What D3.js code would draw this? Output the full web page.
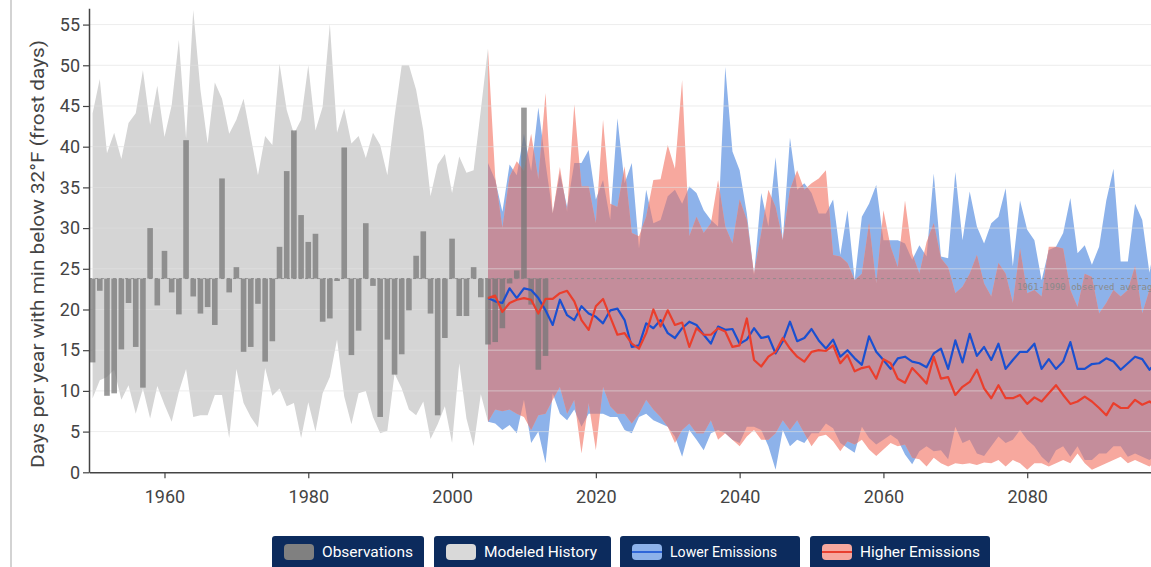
<!DOCTYPE html>
<html><head><meta charset="utf-8">
<script src="https://cdn.jsdelivr.net/npm/d3@7/dist/d3.min.js"></script>
<style>
html,body{margin:0;padding:0;background:#fff;overflow:hidden}
svg{display:block;font-family:Roboto,"Noto Sans",sans-serif}
</style></head><body>
<svg id="chart" width="1151" height="567"></svg>
<script>
// ---------- DATA ----------
const obsYears = d3.range(1950, 2014);
const obsValues = [13.5,22.3,9.4,9.7,15.1,20.8,15.4,10.4,30.0,20.5,
  27.2,22.1,19.4,40.8,21.6,19.5,20.3,18.1,36.1,22.1,
  25.2,14.8,15.4,20.7,13.6,16.1,27.7,37.0,42.0,31.6,
  28.3,29.3,18.5,18.9,23.5,39.9,14.4,17.4,30.6,22.9,
  6.8,16.3,12.0,14.5,19.9,26.6,29.6,19.5,7.0,16.5,
  28.7,19.2,19.2,25.2,21.5,15.7,16.0,17.7,23.2,24.8,
  44.8,20.6,12.6,14.3];
const observedAverage = 23.8;

const histYears = d3.range(1950, 2006);
const histMin = [9.1,11.3,11.7,12.6,8.9,10.7,7.2,10.3,6.6,10.6,
  8.3,6.2,9.9,12.7,6.8,7.0,7.0,9.5,9.5,4.2,
  12.7,8.5,6.8,5.5,12.8,9.4,10.3,8.1,8.5,4.2,
  8.6,5.0,9.7,11.7,16.3,9.3,5.9,9.7,10.0,6.8,
  4.8,5.1,12.1,10.3,7.7,7.0,8.7,4.1,5.9,8.1,
  3.6,13.4,6.6,3.2,9.6,6.2];
const histMax = [44.1,48.3,39.2,41.7,38.5,42.9,44.1,49.4,42.7,47.5,
  41.2,45.1,53.1,41.0,56.8,47.0,40.4,47.9,45.9,41.6,
  43.3,45.9,41.2,36.5,41.3,40.2,50.2,44.5,41.6,43.3,
  50.0,42.0,44.9,55.1,41.7,44.7,40.4,41.3,38.6,41.7,
  40.2,36.5,43.7,50.0,50.0,47.0,42.0,33.9,37.8,39.1,
  34.3,38.8,36.8,37.1,44.5,52.1];

const projYears = d3.range(2005, 2100);
const lowerMin = [6.2,6.0,5.2,5.8,4.8,8.9,3.6,5.0,1.1,9.7,
  7.2,6.4,7.7,5.6,7.2,7.2,7.2,6.8,6.8,5.2,
  4.8,6.8,7.2,6.4,6.0,5.6,4.4,1.9,5.2,4.0,
  2.7,4.8,5.2,4.8,4.0,3.6,5.6,5.6,5.2,3.2,
  0.3,5.2,3.2,4.0,3.6,4.8,4.8,6.0,5.4,3.6,
  3.0,2.4,5.6,4.2,3.4,4.0,4.6,4.0,2.2,1.0,
  2.6,3.2,2.6,2.7,1.6,5.6,3.6,4.0,2.3,2.0,
  3.2,4.4,3.6,4.0,5.2,4.0,3.2,1.9,1.1,2.7,
  3.2,1.9,3.2,1.5,1.5,2.3,2.3,3.2,3.2,1.9,
  2.3,1.9,1.5,2.3,2.0];
const lowerMax = [38.0,35.9,32.0,37.8,36.5,41.6,37.0,44.8,38.0,31.8,
  36.7,32.6,38.0,38.0,39.6,33.5,35.9,31.0,43.5,35.5,
  38.0,27.5,34.7,30.6,31.0,33.9,34.7,33.0,35.1,34.3,
  32.2,31.0,30.2,49.8,39.4,37.1,31.8,24.2,34.3,30.2,
  38.7,28.5,41.1,34.7,35.5,34.3,31.8,31.8,33.5,26.7,
  32.2,23.6,31.4,33.0,35.3,28.5,28.5,28.5,28.1,26.1,
  27.9,26.5,36.7,26.5,26.3,36.9,28.5,34.5,30.2,28.1,
  30.6,31.4,34.9,25.3,33.4,29.8,28.5,23.6,27.3,27.7,
  29.4,33.7,26.9,27.9,25.5,27.7,33.4,37.3,25.9,25.9,
  33.0,31.0,24.5,29.4,29.8];
const lowerMedian = [21.4,21.0,20.8,22.6,21.4,22.6,22.4,21.4,19.9,18.1,
  21.2,19.3,18.7,20.4,19.5,19.1,18.3,19.9,20.1,18.7,
  15.4,15.6,18.3,17.7,18.7,17.1,16.5,17.7,18.5,18.1,
  16.9,15.8,17.9,17.5,17.6,15.8,16.3,17.7,16.5,16.7,
  14.6,16.1,18.5,16.1,16.5,17.6,16.2,15.2,16.3,14.2,
  15.0,14.0,13.2,16.7,14.8,13.8,12.7,14.0,14.2,13.6,
  13.4,12.9,14.6,15.2,12.7,16.2,13.5,17.0,14.3,15.4,
  13.8,15.8,12.7,13.8,14.8,14.8,15.8,12.7,13.9,12.7,
  13.6,16.0,12.7,12.7,13.3,13.4,14.0,13.6,12.6,13.4,
  14.2,13.9,12.6,13.5,13.2];
const higherMin = [6.2,7.7,7.5,7.7,7.2,6.8,5.2,7.0,7.2,8.9,
  10.5,7.2,8.9,2.3,8.5,2.7,10.5,8.1,7.2,7.2,
  6.0,7.2,8.9,7.7,6.8,5.6,3.6,5.2,6.0,4.8,
  4.8,6.4,4.0,4.8,4.0,3.2,4.4,5.2,4.0,4.0,
  4.8,6.4,5.2,6.4,4.8,3.2,4.4,4.6,3.8,2.6,
  3.8,3.4,4.0,2.8,2.0,2.8,3.6,3.2,3.4,1.8,
  1.6,0.7,1.8,1.1,0.7,1.1,1.0,1.1,0.9,1.2,
  1.1,1.5,0.7,1.5,1.1,0.3,1.1,1.1,0.7,1.1,
  1.5,1.1,2.3,1.1,0.3,0.7,1.1,1.5,1.9,1.1,
  1.5,1.1,0.7,1.5,1.1];
const higherMax = [52.0,36.3,30.0,36.3,38.2,37.0,41.6,36.0,46.6,31.8,
  37.5,32.0,45.2,35.1,35.1,30.6,43.3,33.0,32.6,37.6,
  29.4,29.0,31.4,35.9,36.0,40.2,37.3,48.2,29.0,31.4,
  29.4,30.6,35.9,30.2,28.1,33.5,31.0,24.4,29.4,34.7,
  32.6,28.5,34.7,37.1,34.7,35.5,36.1,37.1,26.7,26.5,
  25.7,23.6,24.4,30.6,23.2,32.2,27.7,25.2,33.4,26.9,
  24.4,28.3,30.6,26.3,25.2,22.0,22.8,24.4,26.7,23.2,
  21.6,25.7,24.4,20.8,27.5,22.0,22.4,21.6,27.7,27.7,
  27.5,22.4,20.3,24.4,24.0,19.5,20.8,22.4,21.6,22.4,
  25.3,19.5,22.4,23.6,22.8];
const higherMedian = [21.4,21.7,19.7,20.8,21.2,21.4,21.2,19.5,21.3,21.3,
  22.0,22.3,21.0,18.7,17.5,20.4,21.3,19.1,16.9,17.1,
  15.8,15.2,17.1,20.0,17.9,19.9,18.1,18.4,15.4,17.7,
  16.9,16.9,17.7,17.3,15.4,15.6,18.9,13.8,13.0,14.2,
  14.8,16.5,15.2,14.2,13.6,14.8,15.0,14.9,15.6,13.4,
  14.4,12.4,12.8,13.0,11.5,13.9,13.4,11.5,11.0,12.8,
  11.9,10.9,14.2,11.5,11.7,9.5,10.5,11.1,12.6,10.3,
  9.1,10.7,9.1,9.1,9.5,8.4,9.2,8.7,9.7,10.7,
  9.5,8.4,8.7,9.3,8.7,7.9,7.0,8.5,7.9,7.9,
  8.9,8.3,8.7,8.2,8.4];

const xTicks = [1960,1980,2000,2020,2040,2060,2080];
const yTicks = [0,5,10,15,20,25,30,35,40,45,50,55];
const yTitle = "Days per year with min below 32°F (frost days)";
const avgLabel = "1961-1990 observed average";
const legendLabels = ["Observations","Modeled History","Lower Emissions","Higher Emissions"];

// ---------- CHART ----------
const svg = d3.select("#chart");
const x = d3.scaleLinear().domain([1949.5, 2100]).range([89, 1171]);
const y = d3.scaleLinear().domain([0, 57]).range([472.3, 8.3]);

// container border
svg.append("line").attr("x1",11).attr("x2",11).attr("y1",0).attr("y2",567)
  .attr("stroke","#c4c4c4").attr("stroke-width",1.5);

const hist = histYears.map((yr,i)=>({yr, lo:histMin[i], hi:histMax[i]}));
const lower = projYears.map((yr,i)=>({yr, lo:lowerMin[i], hi:lowerMax[i], med:lowerMedian[i]}));
const higher = projYears.map((yr,i)=>({yr, lo:higherMin[i], hi:higherMax[i], med:higherMedian[i]}));

const band = d3.area().x(d=>x(d.yr)).y0(d=>y(d.lo)).y1(d=>y(d.hi));
const medLine = d3.line().x(d=>x(d.yr)).y(d=>y(d.med));

svg.append("defs").append("clipPath").attr("id","lowerClip")
  .append("path").attr("d", band(lower));

svg.append("path").attr("d", band(hist)).attr("fill","#d5d5d5");
svg.append("path").attr("d", band(lower)).attr("fill","#8db2ea");
svg.append("path").attr("d", band(higher)).attr("fill","#f7a89e");
svg.append("path").attr("d", band(higher)).attr("fill","#c48d9b").attr("clip-path","url(#lowerClip)");

// gridlines
svg.append("g").selectAll("line").data(yTicks.filter(d=>d>0)).join("line")
  .attr("x1",89).attr("x2",1151).attr("y1",d=>y(d)).attr("y2",d=>y(d))
  .attr("stroke","rgb(225,225,225)").attr("stroke-opacity",0.6).attr("stroke-width",1);

// observed average
svg.append("line").attr("x1",89).attr("x2",1151)
  .attr("y1",y(observedAverage)).attr("y2",y(observedAverage))
  .attr("stroke","#8a8a8a").attr("stroke-width",0.8).attr("stroke-dasharray","3,3");
svg.append("text").attr("x",1017).attr("y",y(observedAverage)+11.5)
  .attr("font-family","'DejaVu Sans Mono',monospace").attr("font-size",9)
  .attr("fill","#8a8a8a").text(avgLabel);

// observation bars
const bw = 5.6;
svg.append("g").selectAll("rect").data(obsYears.map((yr,i)=>({yr,v:obsValues[i]}))).join("rect")
  .attr("x",d=>x(d.yr)-bw/2).attr("width",bw)
  .attr("y",d=>Math.min(y(d.v),y(observedAverage)))
  .attr("height",d=>Math.abs(y(d.v)-y(observedAverage)))
  .attr("fill","#777").attr("fill-opacity",0.75);

// median lines
svg.append("path").attr("d",medLine(lower)).attr("fill","none")
  .attr("stroke","#1a50d0").attr("stroke-width",2.2).attr("stroke-linejoin","round");
svg.append("path").attr("d",medLine(higher)).attr("fill","none")
  .attr("stroke","#ea3e2c").attr("stroke-width",2.2).attr("stroke-linejoin","round");

// axes
const gx = svg.append("g").attr("transform","translate(0,472.3)")
  .call(d3.axisBottom(x).tickValues(xTicks).tickFormat(d3.format("d")).tickSize(6).tickPadding(12).tickSizeOuter(0));
const gy = svg.append("g").attr("transform","translate(89,0)")
  .call(d3.axisLeft(y).tickValues(yTicks).tickSize(6).tickPadding(3).tickSizeOuter(0));
[gx,gy].forEach(g=>{
  g.select(".domain").attr("stroke","#444").attr("stroke-width",1.5);
  g.selectAll(".tick line").attr("stroke","#444").attr("stroke-width",1.2);
  g.selectAll(".tick text").attr("font-size",18).attr("fill","#444")
   .attr("font-family","Roboto,'Noto Sans',sans-serif");
});

svg.append("text").attr("transform","translate(44,254) rotate(-90)")
  .attr("text-anchor","middle").attr("font-size",18).attr("fill","#444")
  .attr("textLength",428).attr("lengthAdjust","spacingAndGlyphs").text(yTitle);

// legend
const legendX = [272,434,620,810];
const legendW = [152,177,180,180];
const legendTextW = [91,113,107,120];
const swFill = ["#808080","#d9d9d9","#8db2ea","#f7a89e"];
const swLine = [null,null,"#2f66d8","#e8402f"];
const lg = svg.append("g").selectAll("g").data(legendLabels).join("g")
  .attr("transform",(d,i)=>`translate(${legendX[i]},536)`);
lg.append("rect").attr("width",(d,i)=>legendW[i]).attr("height",40).attr("rx",3).attr("fill","#0c2b5d");
lg.append("rect").attr("x",12).attr("y",8).attr("width",30).attr("height",16).attr("rx",4)
  .attr("fill",(d,i)=>swFill[i]);
lg.filter((d,i)=>swLine[i]).append("line").attr("x1",12).attr("x2",42).attr("y1",16).attr("y2",16)
  .attr("stroke",(d,i)=>swLine[i+2]).attr("stroke-width",2);
lg.append("text").attr("x",50).attr("y",21).attr("fill","#fff").attr("font-size",15).attr("font-weight",400)
  .attr("textLength",(d,i)=>legendTextW[i]).attr("lengthAdjust","spacingAndGlyphs").text(d=>d);
</script>
</body></html>
